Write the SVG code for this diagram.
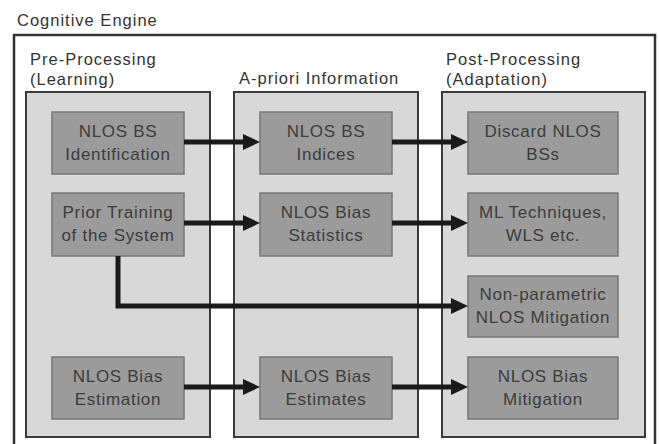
<svg xmlns="http://www.w3.org/2000/svg" width="659" height="444" viewBox="0 0 659 444">
<style>
text{font-family:"Liberation Sans",Arial,sans-serif;fill:#3a3a3a}
.hdr{font-size:16.5px;letter-spacing:1px;fill:#333}
.nt{font-size:17px;letter-spacing:0.7px;text-anchor:middle;fill:#3c3c3c}
.panel{fill:#d8d8d8;stroke:#3a3a3a;stroke-width:2}
.node{fill:#9b9b9b;stroke:#777;stroke-width:1.5}
.conn{fill:none;stroke:#1a1a1a;stroke-width:5}
</style>
<defs>
<marker id="ah" markerUnits="userSpaceOnUse" viewBox="0 0 17 16" refX="7" refY="8" markerWidth="17" markerHeight="16" orient="auto">
<path d="M0,0 L17,8 L0,16 z" fill="#1a1a1a"/>
</marker>
</defs>
<rect width="659" height="444" fill="#fff"/>
<g id="engine">
<text class="hdr" x="17" y="26">Cognitive Engine</text>
<rect x="14" y="35" width="641" height="420" fill="#fff" stroke="#333" stroke-width="2.5"/>
</g>
<g id="panel-pre">
<text class="hdr" x="30" y="65">Pre-Processing</text>
<text class="hdr" x="30" y="85">(Learning)</text>
<rect class="panel" x="26" y="92" width="184" height="345"/>
</g>
<g id="panel-apriori">
<text class="hdr" x="239" y="84">A-priori Information</text>
<rect class="panel" x="234" y="92" width="184" height="345"/>
</g>
<g id="panel-post">
<text class="hdr" x="446" y="65">Post-Processing</text>
<text class="hdr" x="446" y="85">(Adaptation)</text>
<rect class="panel" x="442" y="92" width="203" height="345"/>
</g>
<g id="n-bsid"><rect class="node" x="52" y="112" width="132" height="62"/><text class="nt" x="118" y="137">NLOS BS</text><text class="nt" x="118" y="160">Identification</text></g>
<g id="n-prior"><rect class="node" x="52" y="193" width="132" height="63"/><text class="nt" x="118" y="218">Prior Training</text><text class="nt" x="118" y="241">of the System</text></g>
<g id="n-biasest"><rect class="node" x="52" y="357" width="132" height="62"/><text class="nt" x="118" y="382">NLOS Bias</text><text class="nt" x="118" y="405">Estimation</text></g>
<g id="n-indices"><rect class="node" x="260" y="112" width="132" height="62"/><text class="nt" x="326" y="137">NLOS BS</text><text class="nt" x="326" y="160">Indices</text></g>
<g id="n-stats"><rect class="node" x="260" y="193" width="132" height="63"/><text class="nt" x="326" y="218">NLOS Bias</text><text class="nt" x="326" y="241">Statistics</text></g>
<g id="n-estimates"><rect class="node" x="260" y="357" width="132" height="62"/><text class="nt" x="326" y="382">NLOS Bias</text><text class="nt" x="326" y="405">Estimates</text></g>
<g id="n-discard"><rect class="node" x="468" y="112" width="150" height="62"/><text class="nt" x="543" y="137">Discard NLOS</text><text class="nt" x="543" y="160">BSs</text></g>
<g id="n-ml"><rect class="node" x="468" y="193" width="150" height="63"/><text class="nt" x="543" y="218">ML Techniques,</text><text class="nt" x="543" y="241">WLS etc.</text></g>
<g id="n-nonparam"><rect class="node" x="468" y="276" width="150" height="61"/><text class="nt" x="543" y="300">Non-parametric</text><text class="nt" x="543" y="323">NLOS Mitigation</text></g>
<g id="n-mitig"><rect class="node" x="468" y="357" width="150" height="62"/><text class="nt" x="543" y="382">NLOS Bias</text><text class="nt" x="543" y="405">Mitigation</text></g>
<g id="connectors">
<path class="conn" marker-end="url(#ah)" d="M184,142 H250"/>
<path class="conn" marker-end="url(#ah)" d="M392,142 H458"/>
<path class="conn" marker-end="url(#ah)" d="M184,223 H250"/>
<path class="conn" marker-end="url(#ah)" d="M392,223 H458"/>
<path class="conn" marker-end="url(#ah)" d="M118,256 V306 H458"/>
<path class="conn" marker-end="url(#ah)" d="M184,387 H250"/>
<path class="conn" marker-end="url(#ah)" d="M392,387 H458"/>
</g>
</svg>
